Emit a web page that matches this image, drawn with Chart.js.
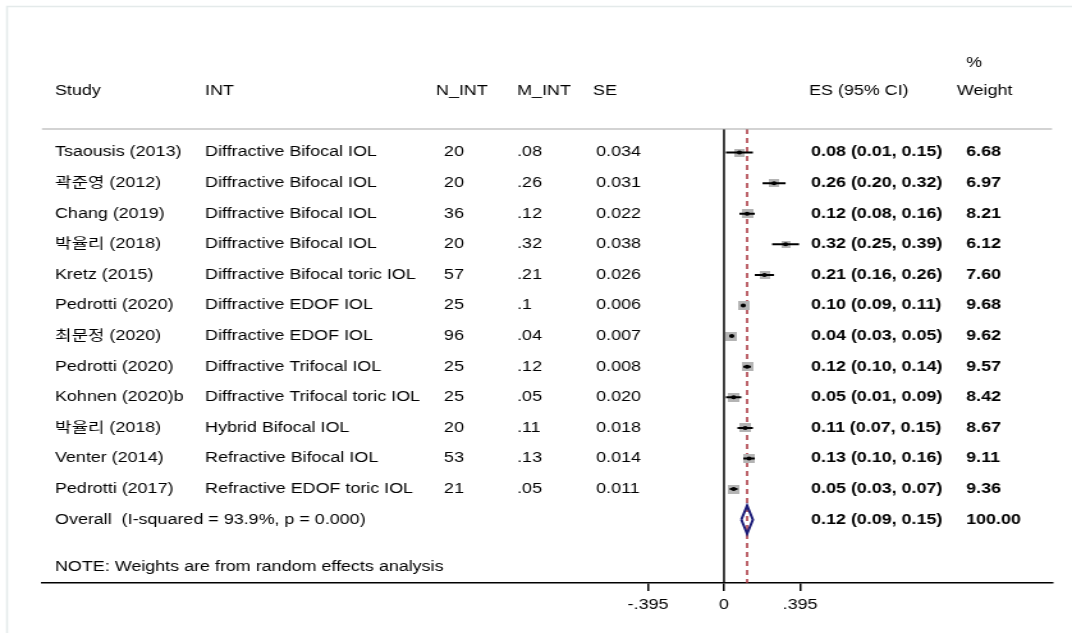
<!DOCTYPE html>
<html>
<head>
<meta charset="utf-8">
<script src="https://cdn.jsdelivr.net/npm/chart.js@4.4.1/dist/chart.umd.min.js"></script>
<style>
  html, body { margin: 0; padding: 0; background: #fff; overflow: hidden; }
  #wrap { width: 838px; height: 633px; transform: scaleX(1.27924); transform-origin: 0 0; }
  canvas { display: block; }
</style>
</head>
<body>
<div id="wrap"><canvas id="forest" width="838" height="633"></canvas></div>
<script>
// Study rows
const studies = ['Tsaousis (2013)', '곽준영 (2012)', 'Chang (2019)', '박율리 (2018)', 'Kretz (2015)',
  'Pedrotti (2020)', '최문정 (2020)', 'Pedrotti (2020)', 'Kohnen (2020)b', '박율리 (2018)',
  'Venter (2014)', 'Pedrotti (2017)'];
const interventions = ['Diffractive Bifocal IOL', 'Diffractive Bifocal IOL', 'Diffractive Bifocal IOL',
  'Diffractive Bifocal IOL', 'Diffractive Bifocal toric IOL', 'Diffractive EDOF IOL', 'Diffractive EDOF IOL',
  'Diffractive Trifocal IOL', 'Diffractive Trifocal toric IOL', 'Hybrid Bifocal IOL',
  'Refractive Bifocal IOL', 'Refractive EDOF toric IOL'];
const nInt = ['20', '20', '36', '20', '57', '25', '96', '25', '25', '20', '53', '21'];
const mInt = ['.08', '.26', '.12', '.32', '.21', '.1', '.04', '.12', '.05', '.11', '.13', '.05'];
const seText = ['0.034', '0.031', '0.022', '0.038', '0.026', '0.006', '0.007', '0.008', '0.020', '0.018', '0.014', '0.011'];

// Effect sizes with 95% CI and random-effects weights
const es = [0.08, 0.26, 0.12, 0.32, 0.21, 0.10, 0.04, 0.12, 0.05, 0.11, 0.13, 0.05];
const ciLow = [0.01, 0.20, 0.08, 0.25, 0.16, 0.09, 0.03, 0.10, 0.01, 0.07, 0.10, 0.03];
const ciHigh = [0.15, 0.32, 0.16, 0.39, 0.26, 0.11, 0.05, 0.14, 0.09, 0.15, 0.16, 0.07];
const weights = [6.68, 6.97, 8.21, 6.12, 7.60, 9.68, 9.62, 9.57, 8.42, 8.67, 9.11, 9.36];

// Pooled estimate
const overallEs = [0.12];
const overallLow = [0.09];
const overallHigh = [0.15];
const overallWeight = [100.00];
const overallLabel = 'Overall  (I-squared = 93.9%, p = 0.000)';
const noteLabel = 'NOTE: Weights are from random effects analysis';

// Axis ticks
const tickValues = [-0.395, 0, 0.395];

const headers = { study: 'Study', int: 'INT', n: 'N_INT', m: 'M_INT', se: 'SE', es: 'ES (95% CI)', pct: '%', weight: 'Weight' };

// ---- layout (canvas pixels) ----
const FONT = "'Liberation Sans', Arial, 'Noto Sans CJK KR', sans-serif";
const Y_MIN = -0.77, Y_MAX = 14.07;
const overallRow = studies.length;
const noteRow = 13.55;
const col = { study: 43.0, int: 160.3, nHead: 340.8, n: 347.1, m: 404.2, seHead: 463.6, se: 466.0,
  esHead: 632.4, es: 634.0, wHead: 748.1, w: 755.2 };
const headerY = 91, pctY = 63;

function fmt2(v) { return v.toFixed(2); }
function tickText(v) {
  if (v === 0) return '0';
  const s = String(Math.abs(v)).replace(/^0/, '');
  return (v < 0 ? '-' : '') + s;
}

function boxImage(w) {
  const side = Math.max(2, Math.round(3.0 * Math.sqrt(w)));
  const c = document.createElement('canvas');
  c.width = side; c.height = side;
  const g = c.getContext('2d');
  g.fillStyle = '#b4b4b4';
  g.fillRect(0, 0, side, side);
  return c;
}

const datasets = [];

// reference line at zero
datasets.push({
  type: 'line', data: [{ x: 0, y: Y_MIN }, { x: 0, y: Y_MAX }],
  borderColor: '#000', borderWidth: 1.5, pointRadius: 0, showLine: true, order: 7
});
// dashed line at the pooled estimate
datasets.push({
  type: 'line', data: [{ x: overallEs[0], y: Y_MIN }, { x: overallEs[0], y: Y_MAX }],
  borderColor: '#a8323c', borderWidth: 1.5, borderDash: [5, 4], pointRadius: 0, showLine: true, order: 6
});
// weight boxes
datasets.push({
  type: 'scatter', data: es.map((v, i) => ({ x: v, y: i })),
  pointStyle: weights.map(boxImage), pointRadius: 5, order: 5
});
// confidence intervals
es.forEach((v, i) => {
  datasets.push({
    type: 'line', data: [{ x: ciLow[i], y: i }, { x: ciHigh[i], y: i }],
    borderColor: '#000', borderWidth: 2, pointRadius: 0, showLine: true, order: 4
  });
});
// point estimates
datasets.push({
  type: 'scatter', data: es.map((v, i) => ({ x: v, y: i })),
  pointStyle: 'circle', pointRadius: 2, backgroundColor: '#000', borderColor: '#000', borderWidth: 0, order: 3
});
// pooled diamond
const dh = 0.46;
datasets.push({
  type: 'line',
  data: [
    { x: overallLow[0], y: overallRow }, { x: overallEs[0], y: overallRow - dh },
    { x: overallHigh[0], y: overallRow }, { x: overallEs[0], y: overallRow + dh },
    { x: overallLow[0], y: overallRow }
  ],
  borderColor: '#1c1c78', borderWidth: 2, pointRadius: 0, showLine: true, fill: false,
  borderJoinStyle: 'miter', tension: 0, order: 2
});

const tablePlugin = {
  id: 'tableText',
  afterDraw(chart) {
    const ctx = chart.ctx;
    const ys = chart.scales.y;
    const ca = chart.chartArea;
    ctx.save();

    // outer frame
    ctx.strokeStyle = '#e4eaea';
    ctx.lineWidth = 1.5;
    ctx.beginPath();
    ctx.moveTo(5.5, 633); ctx.lineTo(5.5, 6.5); ctx.lineTo(838, 6.5);
    ctx.stroke();

    // header rule
    ctx.strokeStyle = '#a8a8a8';
    ctx.lineWidth = 1.2;
    ctx.beginPath();
    ctx.moveTo(ca.left, ca.top); ctx.lineTo(ca.right, ca.top);
    ctx.stroke();

    ctx.textBaseline = 'middle';
    ctx.textAlign = 'left';
    ctx.fillStyle = '#000';

    // headers
    ctx.font = '14px ' + FONT;
    ctx.fillText(headers.study, col.study, headerY);
    ctx.fillText(headers.int, col.int, headerY);
    ctx.fillText(headers.n, col.nHead, headerY);
    ctx.fillText(headers.m, col.m, headerY);
    ctx.fillText(headers.se, col.seHead, headerY);
    ctx.fillText(headers.es, col.esHead, headerY);
    ctx.fillText(headers.pct, col.w, pctY);
    ctx.fillText(headers.weight, col.wHead, headerY);

    // study rows
    studies.forEach((s, i) => {
      const y = ys.getPixelForValue(i);
      ctx.font = '14px ' + FONT;
      ctx.fillText(s, col.study, y);
      ctx.fillText(interventions[i], col.int, y);
      ctx.fillText(nInt[i], col.n, y);
      ctx.fillText(mInt[i], col.m, y);
      ctx.fillText(seText[i], col.se, y);
      ctx.font = 'bold 14px ' + FONT;
      ctx.fillText(fmt2(es[i]) + ' (' + fmt2(ciLow[i]) + ', ' + fmt2(ciHigh[i]) + ')', col.es, y);
      ctx.fillText(fmt2(weights[i]), col.w, y);
    });

    // pooled row and note
    const yo = ys.getPixelForValue(overallRow);
    ctx.font = '14px ' + FONT;
    ctx.fillText(overallLabel, col.study, yo);
    ctx.font = 'bold 14px ' + FONT;
    ctx.fillText(fmt2(overallEs[0]) + ' (' + fmt2(overallLow[0]) + ', ' + fmt2(overallHigh[0]) + ')', col.es, yo);
    ctx.fillText(fmt2(overallWeight[0]), col.w, yo);
    ctx.font = '14px ' + FONT;
    ctx.fillText(noteLabel, col.study, ys.getPixelForValue(noteRow));

    ctx.restore();
  }
};

new Chart(document.getElementById('forest'), {
  type: 'scatter',
  data: { datasets },
  options: {
    responsive: false,
    animation: false,
    devicePixelRatio: 1,
    layout: { padding: { left: 32.8, right: 15.6, top: 129, bottom: 0 } },
    plugins: { legend: { display: false }, tooltip: { enabled: false } },
    scales: {
      x: {
        type: 'linear', position: 'bottom', min: -3.545, max: 1.705,
        afterBuildTicks: (axis) => { axis.ticks = tickValues.map(v => ({ value: v })); },
        afterFit: (axis) => { axis.height = 50; },
        grid: { display: true, drawOnChartArea: false, drawTicks: true, tickLength: 8, color: '#000', lineWidth: 1.5 },
        border: { display: true, color: '#000', width: 1.5 },
        ticks: {
          autoSkip: false, maxRotation: 0, padding: 6, color: '#000',
          font: { family: FONT, size: 14 },
          callback: (v) => tickText(v)
        }
      },
      y: { type: 'linear', min: Y_MIN, max: Y_MAX, reverse: true, display: false }
    }
  },
  plugins: [tablePlugin]
});
</script>
</body>
</html>
